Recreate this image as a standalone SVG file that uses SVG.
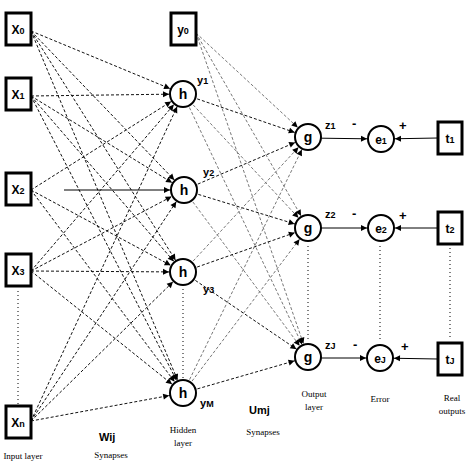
<svg xmlns="http://www.w3.org/2000/svg" width="469" height="468" viewBox="0 0 469 468">
<style>
.box{fill:#fff;stroke:#000;stroke-width:3}
.nd{fill:#fff;stroke:#000;stroke-width:2}
.lbl{font-family:"Liberation Sans",Arial,sans-serif;font-weight:bold;font-size:12px;text-anchor:middle}
.sub{font-size:9px}
.sm{font-family:"Liberation Sans",Arial,sans-serif;font-weight:bold;font-size:11px}
.cap{font-family:"Liberation Serif","Times New Roman",serif;font-size:9px;text-anchor:middle}
.d{fill:none;stroke:#111;stroke-width:1;stroke-dasharray:3,2;marker-end:url(#ah)}
.dg{fill:none;stroke:#777;stroke-width:1;stroke-dasharray:3,2;marker-end:url(#ah)}
.s{fill:none;stroke:#000;stroke-width:1;marker-end:url(#ah)}
.dot{fill:none;stroke:#000;stroke-width:1;stroke-dasharray:1,3}
</style>
<defs>
<marker id="ah" markerUnits="userSpaceOnUse" markerWidth="8" markerHeight="8" refX="20" refY="3" orient="auto" overflow="visible">
<path d="M0,0 L6,3 L0,6 z" fill="#000"/>
</marker>
</defs>
<g id="connectors">
<line class="d" x1="31" y1="31" x2="183" y2="94"/>
<line class="d" x1="31" y1="31" x2="184" y2="190"/>
<line class="d" x1="31" y1="31" x2="183" y2="272"/>
<line class="d" x1="31" y1="31" x2="183" y2="393"/>
<line class="d" x1="31" y1="96" x2="183" y2="94"/>
<line class="d" x1="31" y1="96" x2="184" y2="190"/>
<line class="d" x1="31" y1="96" x2="183" y2="272"/>
<line class="d" x1="31" y1="96" x2="183" y2="393"/>
<line class="d" x1="31" y1="190" x2="183" y2="94"/>
<line class="s" x1="64" y1="190" x2="184" y2="190"/>
<line class="d" x1="31" y1="190" x2="183" y2="272"/>
<line class="d" x1="31" y1="190" x2="183" y2="393"/>
<line class="d" x1="31" y1="271" x2="183" y2="94"/>
<line class="d" x1="31" y1="271" x2="184" y2="190"/>
<line class="d" x1="31" y1="271" x2="183" y2="272"/>
<line class="d" x1="31" y1="271" x2="183" y2="393"/>
<line class="d" x1="31" y1="421" x2="183" y2="94"/>
<line class="d" x1="31" y1="421" x2="184" y2="190"/>
<line class="d" x1="31" y1="421" x2="183" y2="272"/>
<line class="d" x1="31" y1="421" x2="183" y2="393"/>
<line class="dg" x1="196" y1="33" x2="308" y2="137"/>
<line class="dg" x1="196" y1="33" x2="308" y2="228"/>
<line class="dg" x1="196" y1="33" x2="308" y2="357"/>
<line class="d" x1="183" y1="94" x2="308" y2="137"/>
<line class="dg" x1="183" y1="94" x2="308" y2="228"/>
<line class="dg" x1="183" y1="94" x2="308" y2="357"/>
<line class="d" x1="184" y1="190" x2="308" y2="137"/>
<line class="d" x1="184" y1="190" x2="308" y2="228"/>
<line class="dg" x1="184" y1="190" x2="308" y2="357"/>
<line class="dg" x1="183" y1="272" x2="308" y2="137"/>
<line class="d" x1="183" y1="272" x2="308" y2="228"/>
<line class="d" x1="183" y1="272" x2="308" y2="357"/>
<line class="dg" x1="183" y1="393" x2="308" y2="137"/>
<line class="dg" x1="183" y1="393" x2="308" y2="228"/>
<line class="d" x1="183" y1="393" x2="308" y2="357"/>
<line class="s" x1="308" y1="138" x2="381" y2="139"/>
<line class="s" x1="308" y1="228" x2="381" y2="228"/>
<line class="s" x1="308" y1="358" x2="380" y2="358"/>
<line class="s" x1="438" y1="138" x2="381" y2="139"/>
<line class="s" x1="438" y1="228" x2="381" y2="228"/>
<line class="s" x1="438" y1="359" x2="380" y2="358"/>
<line class="dot" x1="18" y1="291" x2="18" y2="404"/>
<line class="dot" x1="183" y1="289" x2="183" y2="378"/>
<line class="dot" x1="308" y1="246" x2="308" y2="340"/>
<line class="dot" x1="380" y1="246" x2="380" y2="340"/>
<line class="dot" x1="450" y1="248" x2="450" y2="340"/>
</g>
<g id="x0"><rect class="box" x="6" y="13" width="25" height="32"/><text class="lbl" x="18" y="34">X<tspan class="sub">0</tspan></text></g>
<g id="x1"><rect class="box" x="6" y="78" width="25" height="32"/><text class="lbl" x="18" y="99">X<tspan class="sub">1</tspan></text></g>
<g id="x2"><rect class="box" x="6" y="173" width="25" height="32"/><text class="lbl" x="18" y="194">X<tspan class="sub">2</tspan></text></g>
<g id="x3"><rect class="box" x="6" y="254" width="25" height="32"/><text class="lbl" x="18" y="275">X<tspan class="sub">3</tspan></text></g>
<g id="xn"><rect class="box" x="6" y="406" width="25" height="32"/><text class="lbl" x="18" y="427">X<tspan class="sub">n</tspan></text></g>
<g id="y0"><rect class="box" x="171" y="13" width="25" height="32"/><text class="lbl" x="183" y="34">y<tspan class="sub">0</tspan></text></g>
<g id="h1"><circle class="nd" cx="183" cy="94" r="13"/><text class="lbl" x="183" y="99" style="font-size:14px">h</text></g>
<g id="h2"><circle class="nd" cx="184" cy="190" r="13"/><text class="lbl" x="184" y="195" style="font-size:14px">h</text></g>
<g id="h3"><circle class="nd" cx="183" cy="272" r="13"/><text class="lbl" x="183" y="277" style="font-size:14px">h</text></g>
<g id="hM"><circle class="nd" cx="183" cy="393" r="13"/><text class="lbl" x="183" y="398" style="font-size:14px">h</text></g>
<g id="g1"><circle class="nd" cx="308" cy="137" r="13"/><text class="lbl" x="308" y="142" style="font-size:14px">g</text></g>
<g id="g2"><circle class="nd" cx="308" cy="228" r="13"/><text class="lbl" x="308" y="233" style="font-size:14px">g</text></g>
<g id="gJ"><circle class="nd" cx="308" cy="357" r="13"/><text class="lbl" x="308" y="362" style="font-size:14px">g</text></g>
<g id="e1"><circle class="nd" cx="381" cy="139" r="13"/><text class="lbl" x="381" y="144">e<tspan class="sub">1</tspan></text></g>
<g id="e2"><circle class="nd" cx="381" cy="228" r="13"/><text class="lbl" x="381" y="233">e<tspan class="sub">2</tspan></text></g>
<g id="eJ"><circle class="nd" cx="380" cy="358" r="13"/><text class="lbl" x="380" y="363">e<tspan class="sub">J</tspan></text></g>
<g id="t1"><rect class="box" x="438" y="122" width="24" height="32"/><text class="lbl" x="450" y="143">t<tspan class="sub">1</tspan></text></g>
<g id="t2"><rect class="box" x="438" y="212" width="24" height="32"/><text class="lbl" x="450" y="233">t<tspan class="sub">2</tspan></text></g>
<g id="tJ"><rect class="box" x="438" y="343" width="24" height="32"/><text class="lbl" x="450" y="364">t<tspan class="sub">J</tspan></text></g>
<g id="labels">
<text class="sm" x="197" y="84">y<tspan class="sub">1</tspan></text>
<text class="sm" x="203" y="176">y<tspan class="sub">2</tspan></text>
<text class="sm" x="203" y="293">y<tspan class="sub">3</tspan></text>
<text class="sm" x="200" y="407">y<tspan class="sub">M</tspan></text>
<text class="sm" x="325" y="129">z<tspan class="sub">1</tspan></text>
<text class="sm" x="325" y="218">z<tspan class="sub">2</tspan></text>
<text class="sm" x="325" y="349">z<tspan class="sub">J</tspan></text>
<text class="sm" x="352" y="128" style="font-size:13px">-</text>
<text class="sm" x="399" y="130" style="font-size:13px">+</text>
<text class="sm" x="352" y="218" style="font-size:13px">-</text>
<text class="sm" x="399" y="220" style="font-size:13px">+</text>
<text class="sm" x="353" y="349" style="font-size:13px">-</text>
<text class="sm" x="401" y="351" style="font-size:13px">+</text>
<text class="sm" x="99" y="441">Wij</text>
<text class="sm" x="249" y="414">Umj</text>
<text class="cap" x="23" y="459">Input layer</text>
<text class="cap" x="111" y="458">Synapses</text>
<text class="cap" x="183" y="433">Hidden</text>
<text class="cap" x="183" y="446">layer</text>
<text class="cap" x="263" y="435">Synapses</text>
<text class="cap" x="314" y="397">Output</text>
<text class="cap" x="314" y="410">layer</text>
<text class="cap" x="380" y="402">Error</text>
<text class="cap" x="452" y="401">Real</text>
<text class="cap" x="452" y="414">outputs</text>
</g>
</svg>
